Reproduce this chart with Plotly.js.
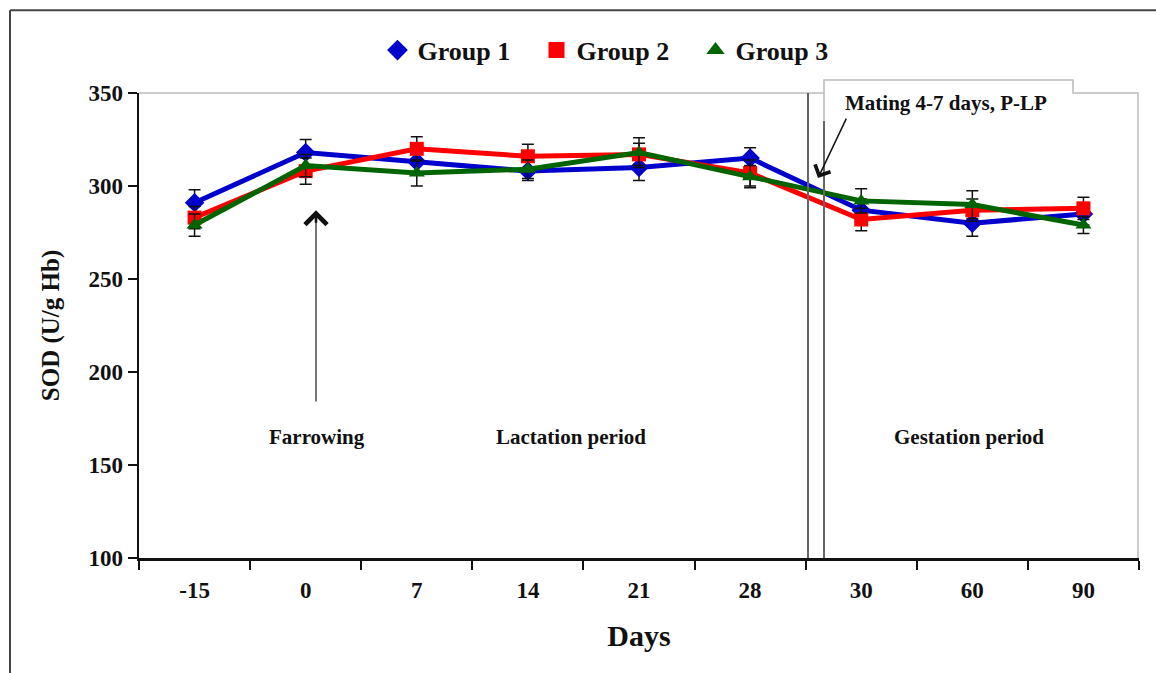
<!DOCTYPE html>
<html>
<head>
<meta charset="utf-8">
<script src="https://cdn.plot.ly/plotly-3.0.1.min.js"></script>
<style>
html,body{margin:0;padding:0;background:#fff;}
#chart{width:1156px;height:673px;}
</style>
</head>
<body>
<div id="chart"></div>
<script>
const days = ["-15", "0", "7", "14", "21", "28", "30", "60", "90"];
const group1 = [291, 318, 313, 308, 310, 315, 287, 280, 285];
const group1Err = [7, 7, 6, 5, 7, 5.5, 6, 7, 6];
const group2 = [283, 308, 320, 316, 317, 307, 282, 287, 288];
const group2Err = [6, 7, 6.5, 6.5, 6, 7, 6, 6, 6];
const group3 = [279, 311, 307, 309, 318, 305, 292, 290, 279];
const group3Err = [6, 6, 7, 5, 8, 6, 6.5, 7.5, 4.5];
const groupNames = ["Group 1", "Group 2", "Group 3"];

const F = "Liberation Serif, Times New Roman, serif";
const colors = ["#0000cc", "#ff0000", "#006400"];
const symbols = ["diamond", "square", "triangle-up"];
const ys = [group1, group2, group3];
const errs = [group1Err, group2Err, group3Err];

const traces = [];
for (let i = 0; i < 3; i++) {
  traces.push({
    x: days, y: ys[i], type: "scatter", mode: "lines+markers",
    name: groupNames[i], showlegend: false,
    line: {color: colors[i], width: 5},
    marker: {color: colors[i], symbol: symbols[i], size: i === 0 ? 15 : 14},
    error_y: {type: "data", array: errs[i], visible: true, color: "#111", thickness: 1.5, width: 6}
  });
}
for (let i = 0; i < 3; i++) {
  traces.push({
    x: [null], y: [null], type: "scatter", mode: "markers",
    name: groupNames[i], showlegend: true,
    marker: {color: colors[i], symbol: symbols[i], size: 18}
  });
}

const gray = "#666";
const light = "#bbb";
const shapes = [
  {type: "line", xref: "paper", yref: "paper", x0: -0.129, x1: 1.02, y0: 1.178, y1: 1.178, line: {color: "#444", width: 2}},
  {type: "line", xref: "paper", yref: "paper", x0: -0.129, x1: -0.129, y0: 1.178, y1: -0.25, line: {color: "#444", width: 2}},
  {type: "line", xref: "paper", yref: "paper", x0: 0, x1: 0.685, y0: 1, y1: 1, line: {color: light, width: 1.5}},
  {type: "path", xref: "paper", yref: "paper", path: "M 0.685 0 L 0.685 1.028 L 0.934 1.028 L 0.934 1 L 0.999 1 L 0.999 0", line: {color: light, width: 1.5}},
  {type: "line", xref: "paper", yref: "paper", x0: 0.669, x1: 0.669, y0: 0, y1: 1, line: {color: gray, width: 2}},
  {type: "line", xref: "paper", yref: "paper", x0: 0.685, x1: 0.685, y0: 0, y1: 0.94, line: {color: gray, width: 2}}
];

const annFont = {family: F, size: 21, color: "#111", weight: "bold"};
const annotations = [
  {xref: "paper", yref: "paper", x: 0.178, y: 0.26, xanchor: "center", yanchor: "middle", text: "Farrowing", showarrow: false, font: annFont},
  {xref: "paper", yref: "paper", x: 0.432, y: 0.26, xanchor: "center", yanchor: "middle", text: "Lactation period", showarrow: false, font: annFont},
  {xref: "paper", yref: "paper", x: 0.830, y: 0.26, xanchor: "center", yanchor: "middle", text: "Gestation period", showarrow: false, font: annFont},
  {xref: "paper", yref: "paper", x: 0.807, y: 0.978, xanchor: "center", yanchor: "middle", text: "Mating 4-7 days, P-LP", showarrow: false, font: annFont},
  {xref: "paper", yref: "paper", x: 0.177, y: 0.742, text: "", showarrow: true, ax: 0, ay: 190,
   arrowhead: 0, arrowwidth: 2, arrowcolor: "#777"},
  {xref: "paper", yref: "paper", x: 0.177, y: 0.748, text: "", showarrow: true, ax: 0, ay: 14,
   arrowhead: 4, arrowsize: 1.7, arrowwidth: 2.5, arrowcolor: "#111"},
  {xref: "paper", yref: "paper", x: 0.679, y: 0.817, text: "", showarrow: true, ax: 29, ay: -61,
   arrowhead: 4, arrowsize: 2.2, arrowwidth: 1.5, arrowcolor: "#111"}
];

const layout = {
  width: 1156, height: 673,
  margin: {l: 139, r: 17, t: 93, b: 115, pad: 0},
  paper_bgcolor: "#fff", plot_bgcolor: "#fff",
  font: {family: F, color: "#111", weight: "bold"},
  showlegend: true,
  legend: {orientation: "h", x: 0.477, xanchor: "center", y: 1.092, yanchor: "middle",
           entrywidth: 114, entrywidthmode: "pixels",
           font: {family: F, size: 26, color: "#111", weight: "bold"}, itemclick: false},
  xaxis: {
    type: "category", range: [-0.5, 8.5], showgrid: false, zeroline: false,
    showline: true, linecolor: "#111", linewidth: 2.5,
    ticks: "outside", tickson: "boundaries", ticklen: 9, tickwidth: 2, tickcolor: "#111",
    ticklabelstandoff: 10,
    tickfont: {family: F, size: 23, color: "#111", weight: "bold"},
    title: {text: "Days", font: {family: F, size: 30, color: "#111", weight: "bold"}, standoff: 23}
  },
  yaxis: {
    range: [100, 350], tickvals: [100, 150, 200, 250, 300, 350], showgrid: false, zeroline: false,
    showline: true, linecolor: "#111", linewidth: 2.5,
    ticks: "outside", ticklen: 9, tickwidth: 2, tickcolor: "#111",
    tickfont: {family: F, size: 23, color: "#111", weight: "bold"},
    title: {text: "SOD (U/g Hb)", font: {family: F, size: 25, color: "#111", weight: "bold"}, standoff: 22}
  },
  shapes: shapes,
  annotations: annotations
};

Plotly.newPlot("chart", traces, layout, {displayModeBar: false, staticPlot: true});
</script>
</body>
</html>
